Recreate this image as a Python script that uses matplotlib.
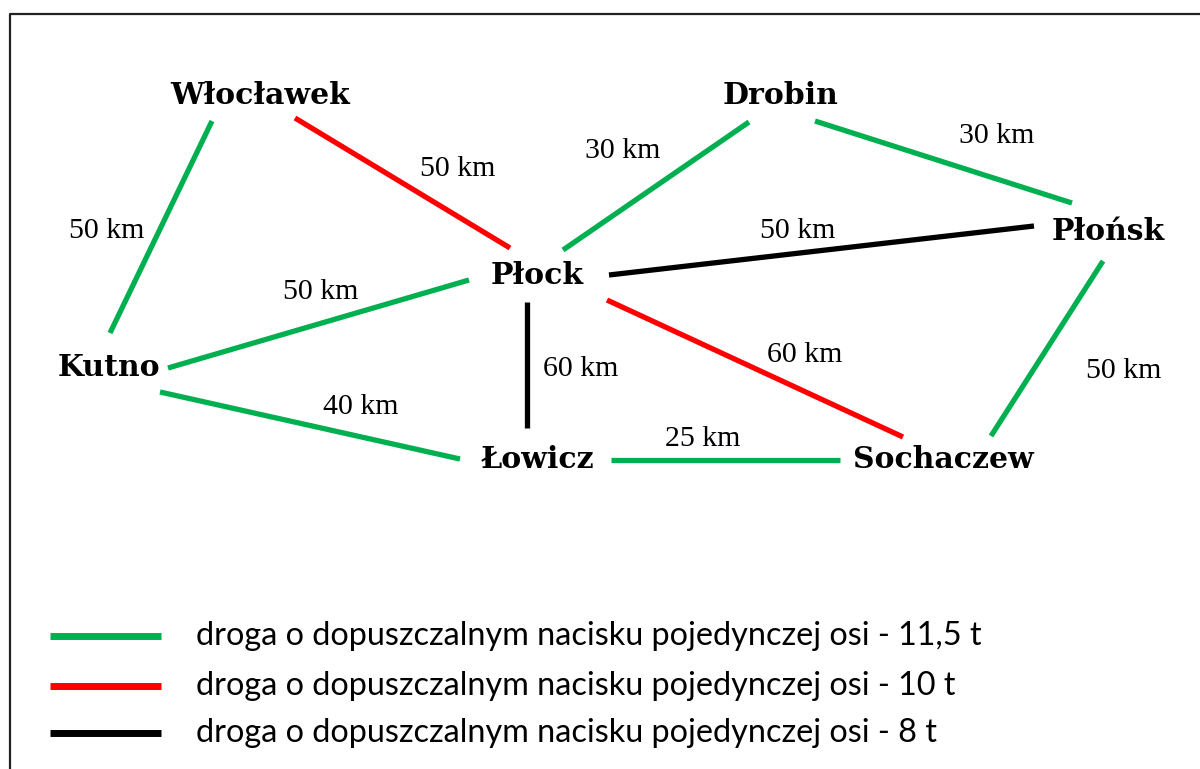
import matplotlib.pyplot as plt

# miasta i drogi
cities = ['Włocławek', 'Drobin', 'Płońsk', 'Płock', 'Kutno', 'Łowicz', 'Sochaczew']
roads = [('Kutno', 'Włocławek'), ('Włocławek', 'Płock'), ('Płock', 'Drobin'),
         ('Drobin', 'Płońsk'), ('Płock', 'Płońsk'), ('Kutno', 'Płock'),
         ('Płock', 'Łowicz'), ('Płock', 'Sochaczew'), ('Płońsk', 'Sochaczew'),
         ('Kutno', 'Łowicz'), ('Łowicz', 'Sochaczew')]
distances_km = [50, 50, 30, 30, 50, 50, 60, 60, 50, 40, 25]
road_class = [11.5, 10, 11.5, 11.5, 8, 11.5, 8, 10, 11.5, 11.5, 11.5]
legend_classes = [11.5, 10, 8]
legend_labels = ['droga o dopuszczalnym nacisku pojedynczej osi - 11,5 t',
                 'droga o dopuszczalnym nacisku pojedynczej osi - 10 t',
                 'droga o dopuszczalnym nacisku pojedynczej osi - 8 t']

# układ (piksele)
city_pos = {'Włocławek': (260, 95), 'Drobin': (780, 95), 'Płońsk': (1108, 231),
            'Płock': (537, 276), 'Kutno': (109, 368), 'Łowicz': (538, 460),
            'Sochaczew': (943, 460)}
road_ends = [((110, 333), (212, 121)), ((295, 118), (510, 248)),
             ((563, 250), (749, 122)), ((815, 121), (1072, 203)),
             ((609, 275), (1034, 226)), ((168, 368), (469, 280)),
             ((527, 302), (527, 428)), ((607, 300), (903, 437)),
             ((1103, 261), (991, 436)), ((160, 392), (460, 459)),
             ((611, 460), (840, 460))]
label_pos = [(107, 231), (458, 169), (623, 151), (997, 136), (798, 231),
             (321, 292), (581, 369), (805, 355), (1124, 371), (361, 407),
             (703, 439)]
legend_y = [636, 686, 733]

colors = {11.5: '#00b050', 10: '#ff0000', 8: '#000000'}

fig = plt.figure(figsize=(12, 7.69), dpi=100)
ax = fig.add_axes([0, 0, 1, 1])
ax.set_xlim(0, 1200)
ax.set_ylim(769, 0)
ax.axis('off')

# ramka
ax.plot([10, 10, 1210], [780, 14, 14], color='#222222', lw=1.6, solid_capstyle='butt')

for (p, q), c in zip(road_ends, road_class):
    ax.plot([p[0], q[0]], [p[1], q[1]], color=colors[c], lw=3.8, solid_capstyle='butt')

for (x, y), d in zip(label_pos, distances_km):
    ax.text(x, y, f'{d} km', ha='center', va='center', fontsize=21.5,
            family='Liberation Serif')

for name in cities:
    x, y = city_pos[name]
    ax.text(x, y, name, ha='center', va='center', fontsize=21.5, fontweight='bold',
            family='DejaVu Serif')

for y, c, lab in zip(legend_y, legend_classes, legend_labels):
    ax.plot([50, 161], [y, y], color=colors[c], lw=5, solid_capstyle='butt')
    ax.text(196, y, lab, ha='left', va='center', fontsize=23.3, family='Lato')

fig.savefig('out.png', dpi=100)
